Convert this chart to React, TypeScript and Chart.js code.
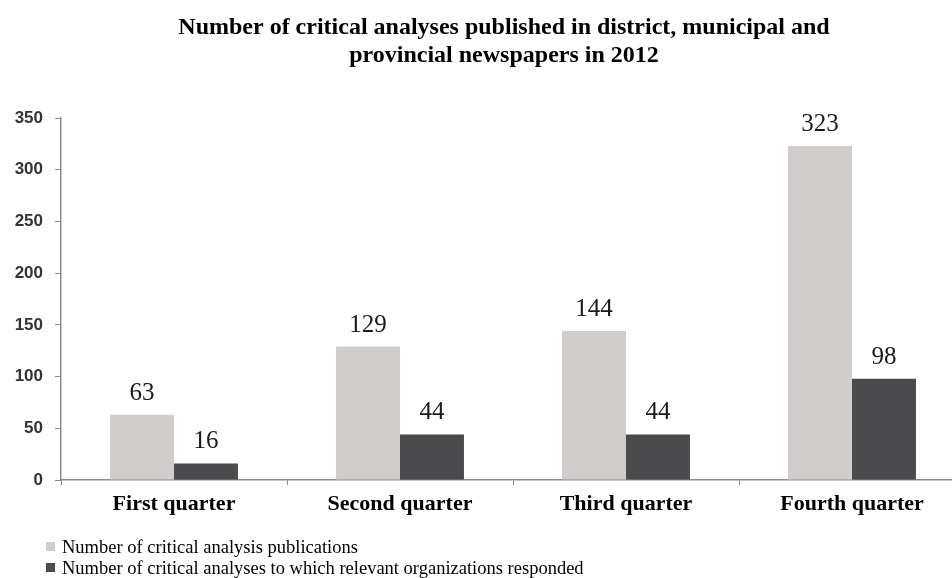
import React, { useEffect, useRef } from "react";
import { Chart, registerables } from "chart.js";

Chart.register(...registerables);

const categories = ["First quarter", "Second quarter", "Third quarter", "Fourth quarter"];
const publications = [63, 129, 144, 323];
const responded = [16, 44, 44, 98];
const seriesNames = [
  "Number of critical analysis publications",
  "Number of critical analyses to which relevant organizations responded",
];
const seriesColors = ["#d1cdcd", "#4b4b4d"];
const titleLines = [
  "Number of critical analyses published in district, municipal and",
  "provincial newspapers in 2012",
];
const yMin = 0;
const yMax = 350;
const yStep = 50;

const textPlugin = {
  id: "customText",
  afterDraw(chart: any) {
    const ctx = chart.ctx;
    ctx.save();
    // title
    ctx.fillStyle = "#000";
    ctx.font = "bold 24px 'Liberation Serif', serif";
    ctx.textAlign = "center";
    ctx.textBaseline = "alphabetic";
    ctx.fillText(titleLines[0], 504, 34);
    ctx.fillText(titleLines[1], 504, 62);

    // data labels
    ctx.font = "25px 'Liberation Serif', serif";
    ctx.fillStyle = "#1a1a1a";
    chart.data.datasets.forEach((ds: any, di: number) => {
      const meta = chart.getDatasetMeta(di);
      meta.data.forEach((el: any, i: number) => {
        ctx.fillText(String(ds.data[i]), el.x, el.y - 15);
      });
    });

    // legend
    ctx.textAlign = "left";
    ctx.font = "18.5px 'Liberation Serif', serif";
    chart.data.datasets.forEach((ds: any, di: number) => {
      const y = 553 + di * 21;
      ctx.fillStyle = ds.backgroundColor;
      ctx.fillRect(46, y - 11, 9, 9);
      ctx.fillStyle = "#000";
      ctx.fillText(ds.label, 62, y);
    });
    ctx.restore();
  },
};

export default function App() {
  const ref = useRef<HTMLCanvasElement | null>(null);
  useEffect(() => {
    if (!ref.current) return;
    const chart = new Chart(ref.current, {
      type: "bar",
      data: {
        labels: categories,
        datasets: [
          { label: seriesNames[0], data: publications, backgroundColor: seriesColors[0] },
          { label: seriesNames[1], data: responded, backgroundColor: seriesColors[1] },
        ],
      },
      options: {
        responsive: false,
        animation: false,
        devicePixelRatio: 1,
        layout: { padding: { left: 0, right: 15, top: 118, bottom: 58 } },
        plugins: { legend: { display: false }, title: { display: false }, tooltip: { enabled: false } },
        datasets: { bar: { categoryPercentage: 0.566, barPercentage: 1 } },
        scales: {
          x: {
            grid: { drawOnChartArea: false, drawTicks: true, tickLength: 5, color: "#888", offset: true },
            border: { color: "#8a8a8a", width: 1.5 },
            ticks: {
              color: "#000",
              padding: 6,
              font: { family: "'Liberation Serif', serif", size: 22, weight: "bold" },
              maxRotation: 0,
            },
            afterFit: (s: any) => {
              s.height = 40;
            },
          },
          y: {
            min: yMin,
            max: yMax,
            grid: { drawOnChartArea: false, drawTicks: true, tickLength: 6, color: "#888" },
            border: { color: "#8a8a8a", width: 1.5 },
            ticks: {
              stepSize: yStep,
              color: "#333",
              padding: 12,
              font: { family: "'Liberation Sans', sans-serif", size: 17, weight: "bold" },
            },
            afterFit: (s: any) => {
              s.width = 61;
            },
          },
        },
      },
      plugins: [textPlugin],
    });
    return () => chart.destroy();
  }, []);
  return (
    <div
      style={{
        position: "fixed",
        left: 0,
        top: 0,
        width: 952,
        height: 578,
        overflow: "hidden",
        background: "#fff",
      }}
    >
      <canvas ref={ref} width={980} height={578} style={{ display: "block", width: 980, height: 578 }} />
    </div>
  );
}
